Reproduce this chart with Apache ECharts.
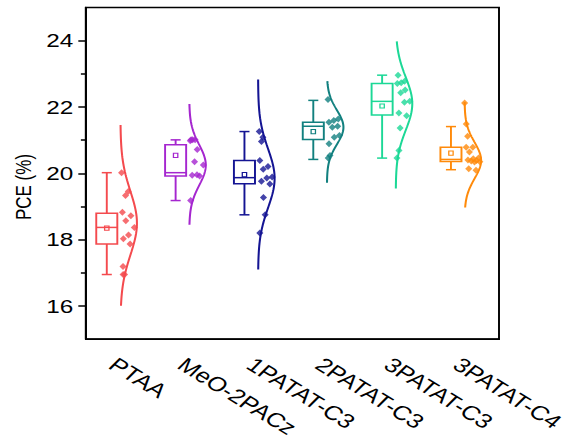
<!DOCTYPE html>
<html>
<head>
<meta charset="utf-8">
<script src="https://cdn.jsdelivr.net/npm/echarts@6/dist/echarts.min.js"></script>
<style>
  html, body { margin: 0; padding: 0; background: #fff; }
  #wrap { width: 571px; height: 440px; overflow: hidden; }
  #chart { height: 440px; transform-origin: 0 0; }
</style>
</head>
<body>
<div id="wrap"><div id="chart"></div></div>
<script>
// Hole-transport layers compared
const categories = ['PTAA', 'MeO-2PACz', '1PATAT-C3', '2PATAT-C3', '3PATAT-C3', '3PATAT-C4'];
const pceTicks = [16, 18, 20, 22, 24];
const pceMinorTicks = [17, 19, 21, 23];

// Power conversion efficiencies (%) of individual devices
const pcePTAA = [20.02, 19.45, 19.33, 18.83, 18.72, 18.57, 18.37, 18.14, 18.03, 17.87, 17.19, 16.95, 16.95];
const pceMeO2PACz = [21.01, 21.01, 21.01, 20.98, 20.72, 20.35, 20.25, 19.96, 19.94, 19.92, 19.18];
const pce1PATATC3 = [21.26, 21.09, 20.96, 20.39, 20.21, 20.12, 19.89, 19.86, 19.76, 19.68, 19.27, 18.75, 18.20];
const pce2PATATC3 = [22.23, 21.64, 21.59, 21.54, 21.42, 21.39, 21.14, 21.09, 20.89, 20.54, 20.46];
const pce3PATATC3 = [22.96, 22.78, 22.73, 22.71, 22.51, 22.43, 22.17, 22.14, 21.82, 21.74, 21.37, 20.69, 20.46];
const pce3PATATC4 = [22.12, 21.49, 21.12, 20.79, 20.79, 20.64, 20.46, 20.44, 20.40, 20.39, 20.37, 20.35, 20.34, 20.14, 20.09];

// Box statistics for each layer
const whiskerLow  = [16.95, 19.18, 18.75, 20.42, 20.46, 20.11];
const quartile1   = [17.87, 19.92, 19.69, 21.02, 21.76, 20.36];
const medians     = [18.37, 20.02, 19.87, 21.42, 22.17, 20.42];
const quartile3   = [18.80, 20.86, 20.39, 21.54, 22.71, 20.79];
const whiskerHigh = [20.02, 21.01, 21.26, 22.20, 22.96, 21.41];
const means       = [18.35, 20.54, 19.96, 21.26, 22.03, 20.61];

// Normal distribution curves: centre and drawn span
const curveCentre = [18.50, 20.25, 19.85, 21.39, 22.10, 20.39];
const curveLow    = [16.01, 18.45, 17.10, 19.72, 19.54, 18.97];
const curveHigh   = [21.46, 22.09, 22.83, 22.78, 23.98, 22.15];

const colors = ['#F44A4E', '#A526CF', '#141493', '#12807F', '#1CD896', '#FF8A0A'];
const groups = [pcePTAA, pceMeO2PACz, pce1PATATC3, pce2PATATC3, pce3PATATC3, pce3PATATC4];

// The figure is laid out in a narrower frame and widened horizontally
const FRAME_W = 446;
const STRETCH = 571 / FRAME_W;
const el = document.getElementById('chart');
el.style.width = FRAME_W + 'px';
el.style.transform = 'scaleX(' + STRETCH + ')';

const FONT = "'Liberation Sans', Arial, sans-serif";
const BOX_SHIFT = -0.198;   // box sits left of the category centre (category units)
const BOX_HALF = 0.153;
const CAP_HALF = 0.073;
const CURVE_PEAK = 0.24;    // height of each distribution curve (category units)

function stdev(a) {
  const m = a.reduce((s, v) => s + v, 0) / a.length;
  return Math.sqrt(a.reduce((s, v) => s + (v - m) * (v - m), 0) / (a.length - 1));
}
const sigmas = groups.map(stdev);

function curveOffset(g, y) {
  const z = (y - curveCentre[g]) / sigmas[g];
  return CURVE_PEAK * Math.exp(-0.5 * z * z);
}
// deterministic spread of the points inside their curve
function spread(i) {
  return 0.08 + 0.85 * ((i * 0.6180339887 + 0.2) % 1);
}

const curveSeries = categories.map((name, g) => {
  const pts = [];
  const n = 160;
  for (let k = 0; k <= n; k++) {
    const y = curveLow[g] + (curveHigh[g] - curveLow[g]) * k / n;
    pts.push([g + 0.5 + curveOffset(g, y), y]);
  }
  return {
    type: 'line', name: name + ' curve', xAxisIndex: 1, yAxisIndex: 0,
    data: pts, showSymbol: false, symbol: 'none', silent: true, z: 3,
    lineStyle: { color: colors[g], width: 1.6 }
  };
});

const dotSeries = groups.map((vals, g) => ({
  type: 'scatter', name: categories[g], xAxisIndex: 1, yAxisIndex: 0,
  symbol: 'diamond', symbolSize: [5.5, 7], z: 4,
  itemStyle: { color: colors[g] },
  data: vals.map((v, i) => [g + 0.5 + spread(i) * curveOffset(g, v), v])
}));

const boxSeries = {
  type: 'custom', xAxisIndex: 1, yAxisIndex: 0, z: 5,
  data: categories.map((c, g) => [g, whiskerLow[g], quartile1[g], medians[g], quartile3[g], whiskerHigh[g], means[g]]),
  encode: { x: 0, y: [1, 2, 3, 4, 5, 6] },
  renderItem(params, api) {
    const g = api.value(0);
    const cx = g + 0.5 + BOX_SHIFT;
    const at = (x, y) => api.coord([x, y]);
    const color = colors[g];
    const st = { stroke: color, lineWidth: 1.5, fill: null };
    const wl = api.value(1), q1 = api.value(2), md = api.value(3),
          q3 = api.value(4), wh = api.value(5), mn = api.value(6);
    const tl = at(cx - BOX_HALF, q3), br = at(cx + BOX_HALF, q1);
    const line = (x1, y1, x2, y2) => {
      const a = at(x1, y1), b = at(x2, y2);
      return { type: 'line', shape: { x1: a[0], y1: a[1], x2: b[0], y2: b[1] }, style: st };
    };
    const m = at(cx, mn);
    return {
      type: 'group',
      children: [
        line(cx, wh, cx, q3),
        line(cx, q1, cx, wl),
        line(cx - CAP_HALF, wh, cx + CAP_HALF, wh),
        line(cx - CAP_HALF, wl, cx + CAP_HALF, wl),
        { type: 'rect', shape: { x: tl[0], y: tl[1], width: br[0] - tl[0], height: br[1] - tl[1] }, style: st },
        line(cx - BOX_HALF, md, cx + BOX_HALF, md),
        { type: 'rect', shape: { x: m[0] - 1.7, y: m[1] - 2.1, width: 3.4, height: 4.2 },
          style: { stroke: color, lineWidth: 1, fill: null } }
      ]
    };
  }
};

const axisLine = { color: '#000', width: 1.5 };

const chart = echarts.init(el, null, { renderer: 'svg' });
chart.setOption({
  animation: false,
  backgroundColor: '#fff',
  grid: {
    left: 86 / STRETCH, right: FRAME_W - 499 / STRETCH, top: 7.5, bottom: 98,
    show: true, borderColor: '#000', borderWidth: 1.5, backgroundColor: 'transparent'
  },
  xAxis: [
    {
      type: 'category', data: categories, boundaryGap: true,
      axisLine: { lineStyle: axisLine },
      axisTick: { alignWithLabel: true, length: 5, lineStyle: axisLine },
      axisLabel: {
        rotate: -38, align: 'left', verticalAlign: 'top', margin: 15,
        fontSize: 20, fontFamily: FONT, color: '#000', interval: 0
      },
      splitLine: { show: false }
    },
    { type: 'value', min: 0, max: 6, show: false }
  ],
  yAxis: [
    {
      type: 'value', min: 15, max: 25, interval: 1,
      axisLine: { show: true, lineStyle: axisLine },
      axisTick: { show: true, customValues: pceTicks, length: 6, lineStyle: axisLine },
      axisLabel: { customValues: pceTicks, fontSize: 19, margin: 10, fontFamily: FONT, color: '#000' },
      splitLine: { show: false }
    },
    {
      type: 'value', min: 15, max: 25, interval: 1, position: 'left',
      axisLine: { show: false },
      axisTick: { show: true, customValues: pceMinorTicks, length: 4, lineStyle: axisLine },
      axisLabel: { show: false },
      splitLine: { show: false }
    }
  ],
  graphic: [{
    type: 'text', x: 23.5 / STRETCH, y: 187, rotation: Math.PI / 2,
    style: {
      text: 'PCE (%)', font: "17px 'Liberation Sans', Arial, sans-serif",
      fontSize: 17, fontFamily: FONT, fill: '#000', align: 'center', verticalAlign: 'middle'
    }
  }],
  series: [...curveSeries, ...dotSeries, boxSeries]
});
</script>
</body>
</html>
